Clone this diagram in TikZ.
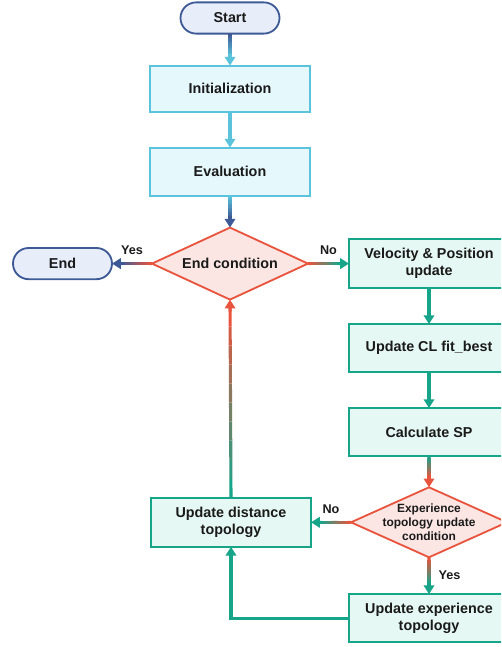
\documentclass[tikz,border=0pt]{standalone}
\usepackage{fontspec}
\setmainfont{Liberation Sans}
\usetikzlibrary{arrows.meta, positioning, calc, shapes.geometric}

\definecolor{pillline}{HTML}{3E5A96}
\definecolor{pillfill}{HTML}{E7EDF9}
\definecolor{cyanline}{HTML}{5BC4DC}
\definecolor{cyanfill}{HTML}{E5F8FC}
\definecolor{redline}{HTML}{E8543E}
\definecolor{redfill}{HTML}{FBE6E3}
\definecolor{tealline}{HTML}{17A589}
\definecolor{tealfill}{HTML}{E5F8F3}
\definecolor{inktext}{HTML}{1A1A1A}

% shaft in 10 pieces, colour running from tail to head, then the head
\newcommand{\gradarrow}[4]{%
  \coordinate (tip) at ($(#2)!2mm!(#1)$);
  \foreach \k in {0,...,9}{
    \pgfmathsetmacro{\pa}{\k/10}
    \pgfmathsetmacro{\pb}{(\k+1)/10}
    \pgfmathtruncatemacro{\mix}{100-\k*100/9}
    \draw[shaft, #3!\mix!#4] ($(#1)!\pa!(tip)$) -- ($(#1)!\pb!(tip)$);
  }
  \draw[arrow, #4] ($(#2)!3mm!(#1)$) -- (#2);
}

\begin{document}
\begin{tikzpicture}[
  box/.style={
    rectangle, draw, line width=1.3pt, outer sep=0pt,
    minimum width=4.0cm, minimum height=1.2cm,
    align=center, text=inktext,
    font=\bfseries\fontsize{10.2}{12}\selectfont
  },
  pill/.style={box, draw=pillline, fill=pillfill, rounded corners=3.9mm,
    minimum width=2.475cm, minimum height=0.78cm},
  cyanbox/.style={box, draw=cyanline, fill=cyanfill},
  tealbox/.style={box, draw=tealline, fill=tealfill},
  cond/.style={box, diamond, aspect=2.2, inner sep=0pt,
    draw=redline, fill=redfill, minimum width=3.9cm, minimum height=1.8cm},
  condsmall/.style={cond, inner xsep=-0.25cm, inner ysep=-0.15cm,
    minimum height=1.75cm, font=\bfseries\fontsize{8.5}{10}\selectfont},
  shaft/.style={line width=2.2pt, line cap=butt},
  arrow/.style={-{Triangle[length=2.2mm, width=2.6mm]}, line width=2.2pt},
  lbl/.style={font=\bfseries\fontsize{9}{11}\selectfont, text=inktext, inner sep=1pt},
]

\clip (-5.75,0.45) rectangle (6.775,-15.725);

% ---- Main column ----
\node[pill] (start) at (0,0) {Start};
\node[cyanbox, below=0.8cm of start, minimum height=1.15cm] (init) {Initialization};
\node[cyanbox, below=0.9cm of init] (eval) {Evaluation};
\node[cond, below=0.8cm of eval] (endcond) {End condition};
\node[pill, left=1.0cm of endcond] (finish) {End};

% ---- Right column ----
\node[tealbox, right=1.025cm of endcond, minimum height=1.225cm] (velpos)
  {Velocity \& Position\\update};
\node[tealbox, below=0.9cm of velpos] (updcl) {Update CL fit\_best};
\node[tealbox, below=0.9cm of updcl] (calcsp) {Calculate SP};
\node[condsmall, below=0.78cm of calcsp] (expcond)
  {Experience\\topology update\\condition};
\node[tealbox, below=0.92cm of expcond] (updexp)
  {Update experience\\topology};
\node[tealbox, left=1.0cm of expcond, minimum height=1.225cm] (upddist)
  {Update distance\\topology};

% Arrows
\gradarrow{start.south}{init.north}{pillline}{cyanline}
\draw[arrow, cyanline] (init) -- (eval);
\gradarrow{eval.south}{endcond.north}{cyanline}{pillline}
\gradarrow{endcond.west}{finish.east}{redline}{pillline}
\gradarrow{endcond.east}{velpos.west}{redline}{tealline}
\draw[arrow, tealline] (velpos) -- (updcl);
\draw[arrow, tealline] (updcl) -- (calcsp);
\gradarrow{calcsp.south}{expcond.north}{tealline}{redline}
\gradarrow{expcond.south}{updexp.north}{redline}{tealline}
\gradarrow{expcond.west}{upddist.east}{redline}{tealline}
\draw[arrow, tealline] (updexp.west) -| (upddist.south);
\gradarrow{upddist.north}{endcond.south}{tealline}{redline}

% Branch labels
\node[lbl, above=0.17cm] (yesend) at ($(endcond.west)!0.5!(finish.east)$) {Yes};
\node[lbl, above=0.17cm] (noend) at ($(endcond.east)!0.5!(velpos.west)$) {No};
\node[lbl, above=0.17cm] (noexp) at ($(expcond.west)!0.5!(upddist.east)$) {No};
\node[lbl, right=0.2cm] (yesexp) at ($(expcond.south)!0.5!(updexp.north)$) {Yes};

\end{tikzpicture}
\end{document}
